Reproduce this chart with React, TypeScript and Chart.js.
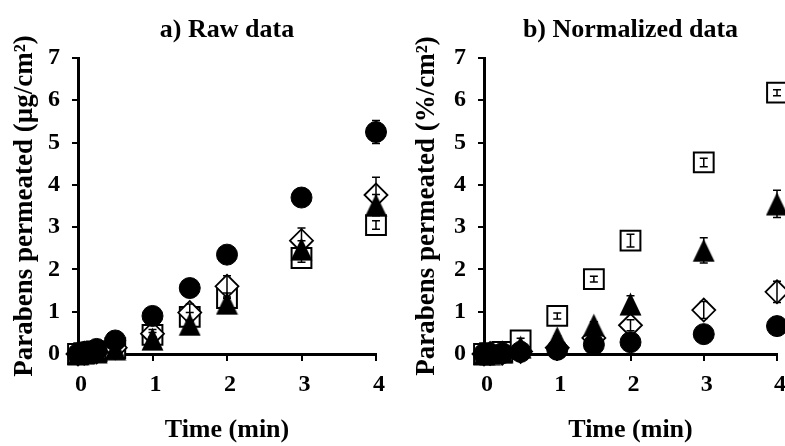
import { useEffect, useRef } from 'react';
import { Chart, registerables } from 'chart.js';

Chart.register(...registerables);

const FONT = "'Liberation Serif', 'Times New Roman', Times, serif";

// ---- data ----
const timeMin = [0, 0.083, 0.25, 0.5, 1, 1.5, 2, 3, 4];
const xTicks = [0, 1, 2, 3, 4];
const yTicks = [0, 1, 2, 3, 4, 5, 6, 7];

// a) Raw data (µg/cm²)
const rawCircle = [0, 0.05, 0.12, 0.32, 0.9, 1.56, 2.35, 3.7, 5.25];
const rawCircleErr = [0, 0, 0, 0.04, 0.05, 0.08, 0.1, 0.12, 0.27];
const rawSquare = [0, 0.02, 0.06, 0.14, 0.45, 0.88, 1.32, 2.27, 3.05];
const rawSquareErr = [0, 0, 0, 0.02, 0.06, 0.1, 0.12, 0.1, 0.1];
const rawDiamond = [0, 0.02, 0.05, 0.15, 0.48, 0.98, 1.6, 2.68, 3.76];
const rawDiamondErr = [0, 0, 0, 0.03, 0.1, 0.2, 0.25, 0.3, 0.42];
const rawTriangle = [0, 0.02, 0.05, 0.12, 0.35, 0.7, 1.2, 2.48, 3.52];
const rawTriangleErr = [0, 0, 0, 0.02, 0.05, 0.1, 0.12, 0.2, 0.25];

// b) Normalized data (%/cm²)
const normCircle = [0, 0.01, 0.02, 0.05, 0.1, 0.22, 0.28, 0.47, 0.66];
const normCircleErr = [0, 0, 0, 0.01, 0.02, 0.03, 0.04, 0.05, 0.06];
const normSquare = [0, 0.02, 0.05, 0.32, 0.9, 1.77, 2.68, 4.53, 6.18];
const normSquareErr = [0, 0, 0, 0.05, 0.07, 0.07, 0.15, 0.1, 0.07];
const normDiamond = [0, 0.01, 0.02, 0.06, 0.15, 0.38, 0.68, 1.04, 1.47];
const normDiamondErr = [0, 0, 0, 0.01, 0.03, 0.05, 0.13, 0.2, 0.25];
const normTriangle = [0, 0.01, 0.04, 0.16, 0.38, 0.68, 1.18, 2.45, 3.55];
const normTriangleErr = [0, 0, 0, 0.03, 0.05, 0.08, 0.2, 0.3, 0.32];

const errorBarPlugin = {
  id: 'errorBars',
  afterDatasetsDraw(chart: any) {
    const ctx = chart.ctx;
    const yScale = chart.scales.y;
    ctx.save();
    ctx.strokeStyle = '#000';
    ctx.lineWidth = 1.5;
    chart.data.datasets.forEach((ds: any, i: number) => {
      const errs = ds.errors as number[] | undefined;
      if (!errs) return;
      const meta = chart.getDatasetMeta(i);
      meta.data.forEach((el: any, j: number) => {
        const e = errs[j];
        if (!e) return;
        const v = ds.data[j].y;
        const x = el.x;
        const yHi = yScale.getPixelForValue(v + e);
        const yLo = yScale.getPixelForValue(v - e);
        ctx.beginPath();
        ctx.moveTo(x, yHi);
        ctx.lineTo(x, yLo);
        ctx.moveTo(x - 4, yHi);
        ctx.lineTo(x + 4, yHi);
        ctx.moveTo(x - 4, yLo);
        ctx.lineTo(x + 4, yLo);
        ctx.stroke();
      });
    });
    ctx.restore();
  },
};

function makeTriangle(): HTMLCanvasElement {
  const c = document.createElement('canvas');
  c.width = 23;
  c.height = 24;
  const g = c.getContext('2d')!;
  g.fillStyle = '#000';
  g.beginPath();
  g.moveTo(11.5, 0.5);
  g.lineTo(22.5, 23.5);
  g.lineTo(0.5, 23.5);
  g.closePath();
  g.fill();
  return c;
}

const toPts = (ys: number[]) => ys.map((y, i) => ({ x: timeMin[i], y }));

type PanelProps = {
  left: number;
  width: number;
  title: string;
  yTitle: string;
  yAxisWidth: number;
  yTitlePad: number;
  rightPad: number;
  circle: number[];
  circleErr: number[];
  square: number[];
  squareErr: number[];
  diamond: number[];
  diamondErr: number[];
  triangle: number[];
  triangleErr: number[];
};

function Panel(p: PanelProps) {
  const ref = useRef<HTMLCanvasElement>(null);
  useEffect(() => {
    const tri = makeTriangle();
    const tickFont = { family: FONT, size: 24, weight: 'bold' as const };
    const titleFont = { family: FONT, size: 26, weight: 'bold' as const, lineHeight: 1 };
    const chart = new Chart(ref.current!, {
      type: 'scatter',
      data: {
        datasets: [
          {
            label: 'circle',
            data: toPts(p.circle),
            errors: p.circleErr,
            pointStyle: 'circle',
            pointRadius: 10.5,
            backgroundColor: '#000',
            borderColor: '#000',
            borderWidth: 1,
            clip: false,
          } as any,
          {
            label: 'triangle',
            data: toPts(p.triangle),
            errors: p.triangleErr,
            pointStyle: tri,
            pointRadius: 12,
            backgroundColor: '#000',
            borderColor: '#000',
            clip: false,
          } as any,
          {
            label: 'diamond',
            data: toPts(p.diamond),
            errors: p.diamondErr,
            pointStyle: 'rectRot',
            pointRadius: 11.5,
            backgroundColor: '#fff',
            borderColor: '#000',
            borderWidth: 1.8,
            clip: false,
          } as any,
          {
            label: 'square',
            data: toPts(p.square),
            errors: p.squareErr,
            pointStyle: 'rect',
            pointRadius: 14,
            backgroundColor: '#fff',
            borderColor: '#000',
            borderWidth: 2,
            clip: false,
          } as any,
        ],
      },
      options: {
        responsive: false,
        animation: false,
        events: [],
        layout: { autoPadding: false, padding: { left: 0, right: p.rightPad, top: 0, bottom: 0 } },
        plugins: {
          legend: { display: false },
          tooltip: { enabled: false },
          title: {
            display: true,
            text: p.title,
            fullSize: false,
            color: '#000',
            font: titleFont,
            padding: { top: 17, bottom: 15 },
          },
        },
        scales: {
          x: {
            type: 'linear',
            min: 0,
            max: 4,
            afterFit: (s: any) => {
              s.height = 92;
              s.paddingLeft = 0;
              s.paddingRight = 0;
            },
            afterBuildTicks: (s: any) => {
              s.ticks = xTicks.map((v) => ({ value: v }));
            },
            border: { display: true, color: '#000', width: 3 },
            grid: { drawOnChartArea: false, drawTicks: true, tickLength: 7, color: '#000', lineWidth: 2 },
            ticks: { color: '#000', padding: 9, font: tickFont, maxRotation: 0, labelOffset: 3 },
            title: {
              display: true,
              text: 'Time (min)',
              color: '#000',
              font: titleFont,
              padding: { top: 0, bottom: 3 },
            },
          },
          y: {
            type: 'linear',
            min: 0,
            max: 7,
            afterFit: (s: any) => {
              s.width = p.yAxisWidth;
            },
            afterBuildTicks: (s: any) => {
              s.ticks = yTicks.map((v) => ({ value: v }));
            },
            border: { display: true, color: '#000', width: 3 },
            grid: { drawOnChartArea: false, drawTicks: true, tickLength: 6, color: '#000', lineWidth: 2 },
            ticks: { color: '#000', padding: 12, font: tickFont },
            title: {
              display: true,
              text: p.yTitle,
              color: '#000',
              font: { ...titleFont, size: 27 },
              padding: { top: p.yTitlePad, bottom: 0 },
            },
          },
        },
      } as any,
      plugins: [errorBarPlugin],
    });
    return () => chart.destroy();
  }, []);
  return (
    <canvas
      ref={ref}
      width={p.width}
      height={446}
      style={{ position: 'absolute', left: p.left, top: 0, width: p.width, height: 446 }}
    />
  );
}

export default function App() {
  return (
    <div style={{ position: 'fixed', left: 0, top: 0, width: 785, height: 446, background: '#fff', overflow: 'hidden' }}>
      <Panel
        left={0}
        width={392}
        title="a) Raw data"
        yTitle="Parabens permeated (µg/cm²)"
        yAxisWidth={78}
        yTitlePad={11.5}
        rightPad={16}
        circle={rawCircle}
        circleErr={rawCircleErr}
        square={rawSquare}
        squareErr={rawSquareErr}
        diamond={rawDiamond}
        diamondErr={rawDiamondErr}
        triangle={rawTriangle}
        triangleErr={rawTriangleErr}
      />
      <Panel
        left={392}
        width={393}
        title="b) Normalized data"
        yTitle="Parabens permeated (%/cm²)"
        yAxisWidth={92}
        yTitlePad={21.5}
        rightPad={8}
        circle={normCircle}
        circleErr={normCircleErr}
        square={normSquare}
        squareErr={normSquareErr}
        diamond={normDiamond}
        diamondErr={normDiamondErr}
        triangle={normTriangle}
        triangleErr={normTriangleErr}
      />
    </div>
  );
}
